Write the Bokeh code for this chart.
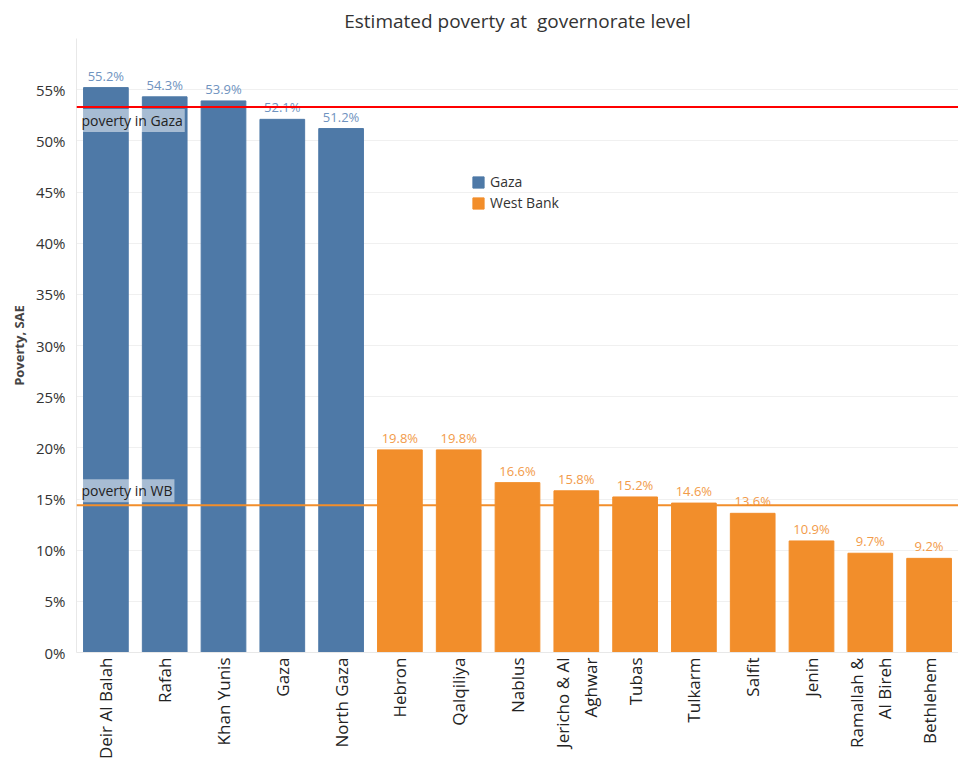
from bokeh.plotting import figure
from bokeh.models import ColumnDataSource, NumeralTickFormatter, Label, Span, FixedTicker, LabelSet
from bokeh.core.properties import value
from bokeh.embed import file_html
from bokeh.resources import INLINE
from math import pi

governorates = ["Deir Al Balah", "Rafah", "Khan Yunis", "Gaza", "North Gaza",
                "Hebron", "Qalqiliya", "Nablus", "Jericho & Al\nAghwar", "Tubas",
                "Tulkarm", "Salfit", "Jenin", "Ramallah &\nAl Bireh", "Bethlehem"]
poverty = [0.552, 0.543, 0.539, 0.521, 0.512,
           0.198, 0.198, 0.166, 0.158, 0.152,
           0.146, 0.136, 0.109, 0.097, 0.092]
region = ["Gaza"] * 5 + ["West Bank"] * 10
gaza_avg = 0.533
wb_avg = 0.144

bar_colors = {"Gaza": "#4e79a7", "West Bank": "#f28e2b"}
lab_colors = {"Gaza": "#6f93c0", "West Bank": "#f29b4a"}

src = ColumnDataSource(dict(
    x=governorates, y=poverty, region=region,
    color=[bar_colors[r] for r in region],
    lcolor=[lab_colors[r] for r in region],
    txt=["%.1f%%" % (v * 100) for v in poverty],
))

FONT = "Open Sans"
p = figure(width=958, height=762, x_range=governorates, y_range=(0, 0.60),
           output_backend="svg", toolbar_location=None,
           title="Estimated poverty at\u00a0 governorate level",
           min_border_left=76, min_border_right=0, min_border_top=0, min_border_bottom=0)
p.title.align = "center"
p.title.text_font = FONT
p.title.text_font_size = "19px"
p.title.text_font_style = "normal"
p.title.text_color = "#333333"
p.title.offset = -2

p.vbar(x="x", top="y", width=0.76, source=src, color="color", legend_group="region")

labels = LabelSet(x="x", y="y", text="txt", source=src, text_color="lcolor",
                  text_font_size="13px", text_align="center", text_baseline="bottom",
                  y_offset=3, text_font=value(FONT))
p.add_layout(labels)

p.add_layout(Span(location=gaza_avg, dimension="width", line_color="#ff0000", line_width=2))
p.add_layout(Span(location=wb_avg, dimension="width", line_color="#f28e2b", line_width=2))

for txt, yv in [("poverty in Gaza", gaza_avg), ("poverty in WB", wb_avg)]:
    p.add_layout(Label(x=3, x_units="screen", y=yv, y_offset=-2 if yv > 0.3 else 3,
                       text=txt, text_baseline="top" if yv > 0.3 else "bottom",
                       text_font=FONT, text_font_size="14px", text_color="#222222",
                       background_fill_color="white", background_fill_alpha=0.5,
                       padding=2))

p.yaxis.ticker = FixedTicker(ticks=[i * 0.05 for i in range(12)])
p.yaxis.formatter = NumeralTickFormatter(format="0%")
p.yaxis.axis_label = "Poverty, SAE"
p.yaxis.axis_label_text_font = FONT
p.yaxis.axis_label_text_font_style = "bold"
p.yaxis.axis_label_text_font_size = "13px"
p.yaxis.major_label_text_font = FONT
p.yaxis.major_label_text_font_size = "15px"
p.yaxis.major_label_text_color = "#333333"
p.yaxis.major_tick_line_color = None
p.yaxis.minor_tick_line_color = None
p.yaxis.axis_line_color = "#e8e8e8"

p.xaxis.major_label_orientation = pi / 2
p.xaxis.major_label_text_font = FONT
p.xaxis.major_label_text_font_size = "17px"
p.xaxis.major_label_text_color = "#222222"
p.xaxis.major_tick_line_color = None
p.xaxis.major_tick_out = 0
p.xaxis.major_tick_in = 0
p.xaxis.major_label_standoff = 5
p.xaxis.axis_line_color = "#e8e8e8"

p.xgrid.grid_line_color = None
p.ygrid.grid_line_color = "#f0f0f0"
p.outline_line_color = None

p.legend.location = (395, 440)
p.legend.border_line_color = None
p.legend.background_fill_alpha = 0
p.legend.label_text_font = FONT
p.legend.label_text_font_size = "14px"
p.legend.label_text_color = "#333333"
p.legend.glyph_width = 14
p.legend.glyph_height = 14
p.legend.spacing = 2
p.legend.padding = 0
p.legend.label_height = 16

open("out.html", "w").write(file_html(p, INLINE))
